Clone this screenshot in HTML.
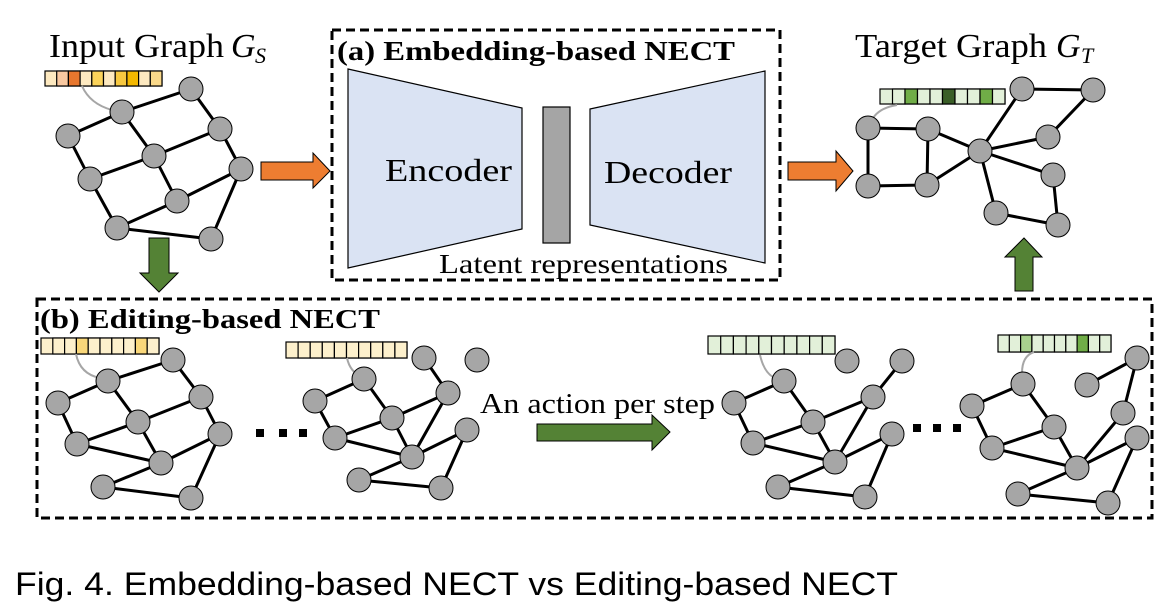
<!DOCTYPE html>
<html><head><meta charset="utf-8"><style>
html,body{margin:0;padding:0;background:#fff;}
svg{display:block;}
.t{font-family:"Liberation Serif",serif;fill:#000;}
</style></head><body>
<svg width="1175" height="610" viewBox="0 0 1175 610" xmlns="http://www.w3.org/2000/svg">
<defs>
<style>
.e{stroke:#000;stroke-width:3;fill:none;}
.n{fill:#a6a6a6;stroke:#000;stroke-width:1;}
.c{stroke:#000;stroke-width:1.2;}
.cv{stroke:#a6a6a6;stroke-width:2;fill:none;}
</style>
</defs>

<!-- Titles -->
<text class="t" x="49" y="57" font-size="34" textLength="175" lengthAdjust="spacingAndGlyphs">Input Graph</text>
<text class="t" x="231" y="57" font-size="34" font-style="italic">G</text>
<text class="t" x="255" y="63" font-size="22" font-style="italic">S</text>
<text class="t" x="855" y="57" font-size="34" textLength="192" lengthAdjust="spacingAndGlyphs">Target Graph</text>
<text class="t" x="1056" y="57" font-size="34" font-style="italic">G</text>
<text class="t" x="1081" y="63" font-size="22" font-style="italic">T</text>

<!-- Input graph -->
<g>
<rect x="45" y="71" width="117" height="15" fill="#fde9c0" stroke="#000" stroke-width="1.2"/>
<rect x="56.7" y="71" width="11.7" height="15" fill="#f9c8a0" class="c"/>
<rect x="68.4" y="71" width="11.7" height="15" fill="#e8772e" class="c"/>
<rect x="80.1" y="71" width="11.7" height="15" fill="#fde9c0" class="c"/>
<rect x="91.8" y="71" width="11.7" height="15" fill="#fbd35a" class="c"/>
<rect x="103.5" y="71" width="11.7" height="15" fill="#fde9c0" class="c"/>
<rect x="115.2" y="71" width="11.7" height="15" fill="#f7c840" class="c"/>
<rect x="126.9" y="71" width="11.7" height="15" fill="#f4b800" class="c"/>
<rect x="138.6" y="71" width="11.7" height="15" fill="#fde9c0" class="c"/>
<rect x="150.3" y="71" width="11.7" height="15" fill="#fad98a" class="c"/>
<path class="cv" d="M82,86 Q90,104 112,110"/>
<path class="e" d="M122,112L191,89M68,136L122,112M191,89L220,129M122,112L154,156M154,156L220,129M220,129L241,169M68,136L90,179M90,179L154,156M154,156L177,201M177,201L241,169M90,179L117,228M117,228L177,201M117,228L211,239M211,239L241,169"/>
<g class="n"><circle cx="191" cy="89" r="12"/><circle cx="122" cy="112" r="12"/><circle cx="68" cy="136" r="12"/><circle cx="220" cy="129" r="12"/><circle cx="154" cy="156" r="12"/><circle cx="241" cy="169" r="12"/><circle cx="90" cy="179" r="12"/><circle cx="177" cy="201" r="12"/><circle cx="117" cy="228" r="12"/><circle cx="211" cy="239" r="12"/></g>
</g>

<!-- Orange arrows -->
<polygon points="261,162 313,162 313,153 330,171 313,188 313,180 261,180" fill="#ed7d31" stroke="#000" stroke-width="1"/>
<polygon points="788,162 836,162 836,151 853,171 836,191 836,180 788,180" fill="#ed7d31" stroke="#000" stroke-width="1"/>

<!-- Box a -->
<rect x="332" y="30" width="448" height="250" fill="none" stroke="#000" stroke-width="3" stroke-dasharray="9,5"/>
<text class="t" x="337" y="60" font-size="27" font-weight="bold" textLength="398" lengthAdjust="spacingAndGlyphs">(a) Embedding-based NECT</text>
<polygon points="348,69 522,108 522,229 348,268" fill="#dae3f3" stroke="#000" stroke-width="1.2"/>
<rect x="543" y="107" width="27" height="136" fill="#a5a5a5" stroke="#000" stroke-width="1.2"/>
<polygon points="590,109 765,71 765,263 590,225" fill="#dae3f3" stroke="#000" stroke-width="1.2"/>
<text class="t" x="385" y="181" font-size="32" textLength="127" lengthAdjust="spacingAndGlyphs">Encoder</text>
<text class="t" x="604" y="183" font-size="32" textLength="128" lengthAdjust="spacingAndGlyphs">Decoder</text>
<text class="t" x="439" y="273" font-size="27" textLength="289" lengthAdjust="spacingAndGlyphs">Latent representations</text>

<!-- Target graph -->
<g>
<rect x="880" y="89" width="125" height="15" fill="#e2f0d9" stroke="#000" stroke-width="1.2"/>
<rect x="892.5" y="89" width="12.5" height="15" fill="#e2f0d9" class="c"/>
<rect x="905" y="89" width="12.5" height="15" fill="#70ad47" class="c"/>
<rect x="917.5" y="89" width="12.5" height="15" fill="#e2f0d9" class="c"/>
<rect x="930" y="89" width="12.5" height="15" fill="#e2f0d9" class="c"/>
<rect x="942.5" y="89" width="12.5" height="15" fill="#3a5e27" class="c"/>
<rect x="955" y="89" width="12.5" height="15" fill="#e2f0d9" class="c"/>
<rect x="967.5" y="89" width="12.5" height="15" fill="#e2f0d9" class="c"/>
<rect x="980" y="89" width="12.5" height="15" fill="#70ad47" class="c"/>
<rect x="992.5" y="89" width="12.5" height="15" fill="#e2f0d9" class="c"/>
<path class="cv" d="M897,105 Q878,108 872,120"/>
<path class="e" d="M868,128L928,129M868,128L868,186M928,129L927,185M868,186L927,185M928,129L980,151M927,185L980,151M980,151L1022,89M1022,89L1093,90M1093,90L1048,137M1048,137L980,151M980,151L1053,175M980,151L996,213M1053,175L1058,225M996,213L1058,225"/>
<g class="n"><circle cx="868" cy="128" r="12"/><circle cx="928" cy="129" r="12"/><circle cx="868" cy="186" r="12"/><circle cx="927" cy="185" r="12"/><circle cx="980" cy="151" r="12"/><circle cx="1022" cy="89" r="12"/><circle cx="1093" cy="90" r="12"/><circle cx="1048" cy="137" r="12"/><circle cx="1053" cy="175" r="12"/><circle cx="996" cy="213" r="12"/><circle cx="1058" cy="225" r="12"/></g>
</g>

<!-- Green vertical arrows -->
<polygon points="149,238 169,238 169,273 178,273 159,292 140,273 149,273" fill="#548235" stroke="#000" stroke-width="1"/>
<polygon points="1015,291 1033,291 1033,257 1042,257 1024,238 1005,257 1015,257" fill="#548235" stroke="#000" stroke-width="1"/>

<!-- Box b -->
<rect x="37" y="299" width="1115" height="219" fill="none" stroke="#000" stroke-width="3" stroke-dasharray="9,5"/>
<text class="t" x="40" y="328" font-size="27" font-weight="bold" textLength="340" lengthAdjust="spacingAndGlyphs">(b) Editing-based NECT</text>

<!-- Graph b1 -->
<g>
<rect x="41" y="338" width="118" height="16" fill="#fdf0cc" stroke="#000" stroke-width="1.2"/>
<g fill="#fdf0cc" class="c">
<rect x="52.8" y="338" width="11.8" height="16"/><rect x="64.6" y="338" width="11.8" height="16"/>
<rect x="76.4" y="338" width="11.8" height="16" fill="#f9d77a"/><rect x="88.2" y="338" width="11.8" height="16"/>
<rect x="100" y="338" width="11.8" height="16"/><rect x="111.8" y="338" width="11.8" height="16"/>
<rect x="123.6" y="338" width="11.8" height="16"/><rect x="135.4" y="338" width="11.8" height="16" fill="#f9d77a"/>
<rect x="147.2" y="338" width="11.8" height="16"/></g>
<path class="cv" d="M76,354 Q80,374 100,378"/>
<path class="e" d="M108,381L173,360M58,403L108,381M173,360L201,397M108,381L138,422M138,422L201,397M201,397L220,434M58,403L77,444M77,444L138,422M138,422L161,463M161,463L220,434M77,444L161,463M103,487L161,463M103,487L191,498M191,498L220,434"/>
<g class="n"><circle cx="173" cy="360" r="12"/><circle cx="108" cy="381" r="12"/><circle cx="58" cy="403" r="12"/><circle cx="201" cy="397" r="12"/><circle cx="138" cy="422" r="12"/><circle cx="220" cy="434" r="12"/><circle cx="77" cy="444" r="12"/><circle cx="161" cy="463" r="12"/><circle cx="103" cy="487" r="12"/><circle cx="191" cy="498" r="12"/></g>
</g>
<g fill="#000"><rect x="256" y="429" width="8" height="8"/><rect x="279" y="429" width="8" height="8"/><rect x="299" y="429" width="8" height="8"/></g>

<!-- Graph b2 -->
<g>
<rect x="286" y="342" width="121" height="16" fill="#fdf0cc" stroke="#000" stroke-width="1.2"/>
<g fill="#fdf0cc" class="c">
<rect x="298.1" y="342" width="12.1" height="16"/><rect x="310.2" y="342" width="12.1" height="16"/><rect x="322.3" y="342" width="12.1" height="16"/><rect x="334.4" y="342" width="12.1" height="16"/><rect x="346.5" y="342" width="12.1" height="16"/><rect x="358.6" y="342" width="12.1" height="16"/><rect x="370.7" y="342" width="12.1" height="16"/><rect x="382.8" y="342" width="12.1" height="16"/><rect x="394.9" y="342" width="12.1" height="16"/></g>
<path class="cv" d="M347,358 Q350,372 362,377"/>
<path class="e" d="M364,379L315,401M315,401L335,438M364,379L392,418M392,418L448,393M424,358L448,393M448,393L412,457M392,418L412,457M335,438L392,418M335,438L412,457M412,457L467,430M467,430L441,488M359,480L412,457M359,480L441,488"/>
<g class="n"><circle cx="364" cy="379" r="12"/><circle cx="315" cy="401" r="12"/><circle cx="424" cy="358" r="12"/><circle cx="477" cy="360" r="12"/><circle cx="448" cy="393" r="12"/><circle cx="392" cy="418" r="12"/><circle cx="335" cy="438" r="12"/><circle cx="467" cy="430" r="12"/><circle cx="412" cy="457" r="12"/><circle cx="359" cy="480" r="12"/><circle cx="441" cy="488" r="12"/></g>
</g>

<!-- action -->
<text class="t" x="480" y="413" font-size="29" textLength="235" lengthAdjust="spacingAndGlyphs">An action per step</text>
<polygon points="537,424 652,424 652,415 670,432 652,450 652,441 537,441" fill="#548235" stroke="#000" stroke-width="1"/>

<!-- Graph b3 -->
<g>
<rect x="708" y="336" width="127" height="18" fill="#e2f0d9" stroke="#000" stroke-width="1.2"/>
<g fill="#e2f0d9" class="c">
<rect x="720.7" y="336" width="12.7" height="18"/><rect x="733.4" y="336" width="12.7" height="18"/><rect x="746.1" y="336" width="12.7" height="18"/><rect x="758.8" y="336" width="12.7" height="18"/><rect x="771.5" y="336" width="12.7" height="18"/><rect x="784.2" y="336" width="12.7" height="18"/><rect x="796.9" y="336" width="12.7" height="18"/><rect x="809.6" y="336" width="12.7" height="18"/><rect x="822.3" y="336" width="12.7" height="18"/></g>
<path class="cv" d="M760,355 Q764,372 773,377"/>
<path class="e" d="M784,381L734,403M734,403L753,443M784,381L813,422M813,422L873,397M873,397L902,361M873,397L835,462M813,422L835,462M753,443L813,422M753,443L835,462M835,462L892,434M892,434L865,497M778,487L835,462M778,487L865,497"/>
<g class="n"><circle cx="784" cy="381" r="12"/><circle cx="734" cy="403" r="12"/><circle cx="847" cy="361" r="12"/><circle cx="902" cy="361" r="12"/><circle cx="873" cy="397" r="12"/><circle cx="813" cy="422" r="12"/><circle cx="753" cy="443" r="12"/><circle cx="892" cy="434" r="12"/><circle cx="835" cy="462" r="12"/><circle cx="778" cy="487" r="12"/><circle cx="865" cy="497" r="12"/></g>
</g>
<g fill="#000"><rect x="913" y="424" width="8" height="8"/><rect x="933" y="424" width="8" height="8"/><rect x="953" y="424" width="8" height="8"/></g>

<!-- Graph b4 -->
<g>
<rect x="998" y="335" width="113" height="17" fill="#e2f0d9" stroke="#000" stroke-width="1.2"/>
<g fill="#e2f0d9" class="c">
<rect x="1009.3" y="335" width="11.3" height="17"/><rect x="1020.6" y="335" width="11.3" height="17" fill="#a9d18e"/><rect x="1031.9" y="335" width="11.3" height="17"/><rect x="1043.2" y="335" width="11.3" height="17"/><rect x="1054.5" y="335" width="11.3" height="17"/><rect x="1065.8" y="335" width="11.3" height="17"/><rect x="1077.1" y="335" width="11.3" height="17" fill="#70ad47"/><rect x="1088.4" y="335" width="11.3" height="17"/><rect x="1099.7" y="335" width="11.3" height="17"/></g>
<path class="cv" d="M1034,352 Q1022,356 1022,373"/>
<path class="e" d="M1023,384L972,406M972,406L992,448M1023,384L1054,427M1054,427L1077,468M992,448L1054,427M992,448L1077,468M1087,385L1137,358M1137,358L1123,413M1123,413L1077,468M1077,468L1137,438M1137,438L1108,503M1018,494L1077,468M1018,494L1108,503"/>
<g class="n"><circle cx="1023" cy="384" r="12"/><circle cx="972" cy="406" r="12"/><circle cx="1087" cy="385" r="12"/><circle cx="1137" cy="358" r="12"/><circle cx="1123" cy="413" r="12"/><circle cx="1054" cy="427" r="12"/><circle cx="992" cy="448" r="12"/><circle cx="1137" cy="438" r="12"/><circle cx="1077" cy="468" r="12"/><circle cx="1018" cy="494" r="12"/><circle cx="1108" cy="503" r="12"/></g>
</g>

<!-- Caption -->
<text x="15" y="595" font-family="Liberation Sans, sans-serif" font-size="32" fill="#000" textLength="883" lengthAdjust="spacingAndGlyphs">Fig. 4. Embedding-based NECT vs Editing-based NECT</text>
</svg>
</body></html>
